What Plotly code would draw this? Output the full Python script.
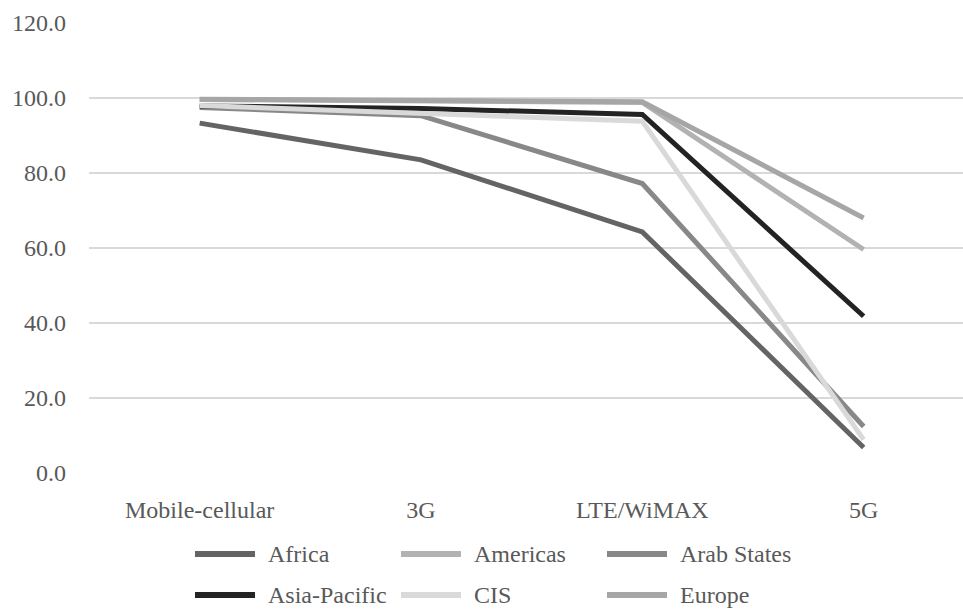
import plotly.graph_objects as go

# Coverage by network technology (% of population), per region
technologies = ["Mobile-cellular", "3G", "LTE/WiMAX", "5G"]

africa = [93.3, 83.5, 64.3, 6.8]
americas = [99.6, 99.2, 98.8, 59.6]
arab_states = [97.5, 95.3, 77.2, 12.4]
asia_pacific = [97.9, 97.2, 95.6, 41.8]
cis = [98.0, 95.8, 93.8, 8.9]
europe = [99.7, 99.5, 99.0, 68.0]

series = [
    ("Africa", africa, "#646464"),
    ("Americas", americas, "#b2b2b2"),
    ("Arab States", arab_states, "#888888"),
    ("Asia-Pacific", asia_pacific, "#232323"),
    ("CIS", cis, "#d9d9d9"),
    ("Europe", europe, "#a6a6a6"),
]

y_ticks = [0, 20, 40, 60, 80, 100, 120]

W, H = 963, 612
M_LEFT, M_RIGHT, M_TOP, M_BOTTOM = 89, 0, 23, 139
PLOT_W = W - M_LEFT - M_RIGHT
PLOT_H = H - M_TOP - M_BOTTOM

font_family = "Liberation Serif"
text_color = "#595959"

fig = go.Figure()
for name, values, color in series:
    fig.add_trace(go.Scatter(
        x=technologies,
        y=values,
        name=name,
        mode="lines",
        line=dict(color=color, width=5),
        showlegend=False,
    ))


def px_to_paper(px, py):
    """Convert page pixel position to paper coordinates."""
    return (px - M_LEFT) / PLOT_W, (H - M_BOTTOM - py) / PLOT_H


# Legend: three columns, two rows, long line swatches
legend_x0, legend_y0 = 195, 554
col_step, row_step = 206, 41
swatch_len, text_gap = 60, 11
for i, (name, _, color) in enumerate(series):
    col, row = i % 3, i // 3
    sx = legend_x0 + col * col_step
    sy = legend_y0 + row * row_step
    x0, y0 = px_to_paper(sx, sy)
    x1, _ = px_to_paper(sx + swatch_len, sy)
    fig.add_shape(
        type="line", xref="paper", yref="paper",
        x0=x0, x1=x1, y0=y0, y1=y0,
        line=dict(color=color, width=6),
    )
    tx, _ = px_to_paper(sx + swatch_len + text_gap, sy)
    fig.add_annotation(
        xref="paper", yref="paper", x=tx, y=y0,
        text=name, showarrow=False,
        xanchor="left", yanchor="middle",
        font=dict(family=font_family, size=24, color=text_color),
    )

fig.update_layout(
    width=W,
    height=H,
    margin=dict(l=M_LEFT, r=M_RIGHT, t=M_TOP, b=M_BOTTOM, autoexpand=False),
    paper_bgcolor="white",
    plot_bgcolor="white",
    showlegend=False,
    font=dict(family=font_family, color=text_color, size=24),
    xaxis=dict(
        type="category",
        range=[-0.5, 3.449],
        showgrid=False,
        zeroline=False,
        showline=False,
        ticks="",
        ticklabelstandoff=20,
        tickfont=dict(family=font_family, size=24, color=text_color),
    ),
    yaxis=dict(
        range=[0, 120],
        tickvals=y_ticks,
        ticktext=[f"{v:.1f}" for v in y_ticks],
        showgrid=True,
        gridcolor="#d9d9d9",
        gridwidth=1.5,
        zeroline=False,
        showline=False,
        ticks="",
        ticklabelstandoff=22,
        tickfont=dict(family=font_family, size=24, color=text_color),
    ),
)

fig.write_html("out.html")
